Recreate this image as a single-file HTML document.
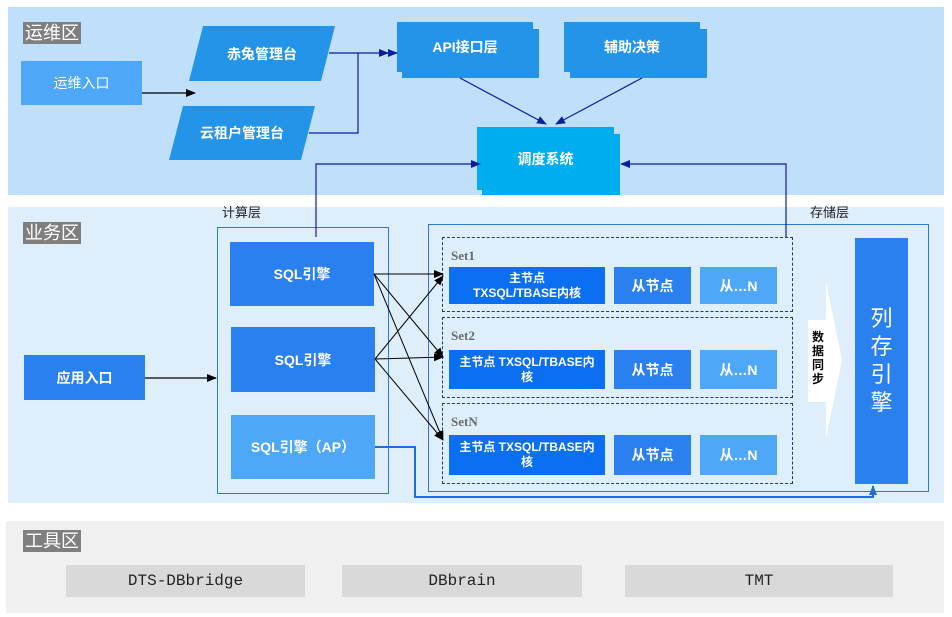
<!DOCTYPE html>
<html><head><meta charset="utf-8"><style>
*{margin:0;padding:0;box-sizing:border-box}
body{width:952px;height:617px;position:relative;background:#fff;font-family:"Liberation Sans","Noto Sans CJK SC",sans-serif;overflow:hidden}
.a{position:absolute}
.c{display:flex;align-items:center;justify-content:center;text-align:center;color:#fff;font-weight:bold;font-size:14px;line-height:16px}
.zl{position:absolute;background:#7f7f7f;color:#fff;font-size:18px;line-height:22px;padding:0 2px}
.dash{position:absolute;border:1.5px dashed #1f3a6e}
.st{position:absolute;color:#6b6b6b;font-weight:bold;font-size:13px;font-family:"Liberation Serif","Noto Serif CJK SC",serif}
.tool{position:absolute;background:#d9d9d9;display:flex;align-items:center;justify-content:center;font-family:"Liberation Mono",monospace;font-size:16px;color:#222}
</style></head><body>
<div class="a" style="left:8px;top:7px;width:936px;height:188px;background:#bfdffb"></div>
<div class="a" style="left:8px;top:207px;width:936px;height:296px;background:#deeefb"></div>
<div class="a" style="left:6px;top:521px;width:938px;height:92px;background:#f0f0f0"></div>
<div class="zl" style="left:23px;top:22px">运维区</div>
<div class="zl" style="left:23px;top:222px">业务区</div>
<div class="zl" style="left:23px;top:530px">工具区</div>

<div class="a c" style="left:21px;top:61px;width:121px;height:44px;background:#4fa7f7;font-weight:normal">运维入口</div>
<svg class="a" style="left:0;top:0" width="952" height="617">
<polygon points="203,26 335,26 321,81 189,81" fill="#2494e8"/>
<polygon points="183,106 315,106 301,160 169,160" fill="#2494e8"/>
</svg>
<div class="a c" style="left:195px;top:26px;width:134px;height:55px">赤兔管理台</div>
<div class="a c" style="left:175px;top:106px;width:134px;height:54px">云租户管理台</div>

<div class="a" style="left:402px;top:29px;width:137px;height:49px;background:#2494e8"></div>
<div class="a c" style="left:397px;top:22px;width:136px;height:50px;background:#2494e8">API接口层</div>
<div class="a" style="left:570px;top:29px;width:137px;height:49px;background:#2494e8"></div>
<div class="a c" style="left:564px;top:22px;width:136px;height:50px;background:#2494e8">辅助决策</div>
<div class="a" style="left:482px;top:134px;width:138px;height:61px;background:#00aeef"></div>
<div class="a c" style="left:477px;top:127px;width:137px;height:63px;background:#00aeef">调度系统</div>

<div class="a" style="left:222px;top:202px;font-size:13px;color:#222">计算层</div>
<div class="a" style="left:810px;top:202px;font-size:13px;color:#222">存储层</div>
<div class="a" style="left:217px;top:227px;width:172px;height:267px;border:1.5px solid #2b7ad6"></div>
<div class="a" style="left:428px;top:224px;width:501px;height:268px;border:1.5px solid #2b7ad6"></div>
<div class="a c" style="left:230px;top:242px;width:144px;height:64px;background:#2b80f0">SQL引擎</div>
<div class="a c" style="left:231px;top:327px;width:144px;height:65px;background:#2b80f0">SQL引擎</div>
<div class="a c" style="left:231px;top:415px;width:144px;height:64px;background:#4fa7f7">SQL引擎（AP）</div>
<div class="a c" style="left:24px;top:355px;width:121px;height:45px;background:#2b80f0">应用入口</div>

<div class="dash" style="left:442px;top:237px;width:351px;height:75px"></div>
<div class="dash" style="left:442px;top:317px;width:351px;height:81px"></div>
<div class="dash" style="left:442px;top:403px;width:351px;height:81px"></div>
<div class="st" style="left:451px;top:248px">Set1</div>
<div class="st" style="left:451px;top:328px">Set2</div>
<div class="st" style="left:451px;top:414px">SetN</div>
<div class="a c" style="left:449px;top:267px;width:156px;height:37px;background:#0a6ff0;font-size:12px;line-height:15px">主节点<br>TXSQL/TBASE内核</div>
<div class="a c" style="left:449px;top:350px;width:156px;height:39px;background:#0a6ff0;font-size:12px;line-height:15px">主节点 TXSQL/TBASE内<br>核</div>
<div class="a c" style="left:449px;top:435px;width:156px;height:40px;background:#0a6ff0;font-size:12px;line-height:15px">主节点 TXSQL/TBASE内<br>核</div>
<div class="a c" style="left:614px;top:267px;width:77px;height:37px;background:#2b80f0">从节点</div>
<div class="a c" style="left:614px;top:350px;width:77px;height:39px;background:#2b80f0">从节点</div>
<div class="a c" style="left:614px;top:435px;width:77px;height:40px;background:#2b80f0">从节点</div>
<div class="a c" style="left:700px;top:267px;width:77px;height:37px;background:#4fa7f7">从…N</div>
<div class="a c" style="left:700px;top:350px;width:77px;height:39px;background:#4fa7f7">从…N</div>
<div class="a c" style="left:700px;top:435px;width:77px;height:40px;background:#4fa7f7">从…N</div>
<svg class="a" style="left:0;top:0" width="952" height="617">
<polygon points="808,320 826,320 826,282 842,360 826,438 826,402 808,402" fill="#fff"/>
</svg>
<div class="a" style="left:810px;top:330px;width:16px;font-size:12px;line-height:14px;font-weight:bold;color:#000;text-align:center">数<br>据<br>同<br>步</div>
<div class="a c" style="left:855px;top:238px;width:53px;height:246px;background:#2b80f0;font-size:22px;line-height:28px;font-weight:normal">列<br>存<br>引<br>擎</div>

<div class="tool" style="left:66px;top:565px;width:239px;height:32px">DTS-DBbridge</div>
<div class="tool" style="left:342px;top:565px;width:240px;height:32px">DBbrain</div>
<div class="tool" style="left:625px;top:565px;width:268px;height:32px">TMT</div>

<svg class="a" style="left:0;top:0" width="952" height="617">
<defs>
<marker id="k" markerWidth="10" markerHeight="8" refX="9" refY="4" orient="auto" markerUnits="userSpaceOnUse"><path d="M0,0 L10,4 L0,8z" fill="#000"/></marker>
<marker id="b" markerWidth="10" markerHeight="8" refX="9" refY="4" orient="auto" markerUnits="userSpaceOnUse"><path d="M0,0 L10,4 L0,8z" fill="#0a1fa0"/></marker>
<marker id="u" markerWidth="10" markerHeight="8" refX="9" refY="4" orient="auto" markerUnits="userSpaceOnUse"><path d="M0,0 L10,4 L0,8z" fill="#1c6fe0"/></marker>
</defs>
<g fill="none" stroke-width="1.2">
<line x1="142" y1="93" x2="195" y2="93" stroke="#000" marker-end="url(#k)"/>
<polyline points="329,53 358,53 358,133 309,133" stroke="#0a1fa0"/>
<line x1="358" y1="53" x2="397" y2="53" stroke="#0a1fa0" marker-end="url(#b)"/>
<line x1="380" y1="53" x2="388" y2="53" stroke="#0a1fa0" marker-end="url(#b)"/>
<line x1="460" y1="78" x2="546" y2="124" stroke="#0a1fa0" marker-end="url(#b)"/>
<line x1="642" y1="78" x2="556" y2="124" stroke="#0a1fa0" marker-end="url(#b)"/>
<polyline points="316,237 316,164 480,164" stroke="#0a1fa0" marker-end="url(#b)"/>
<polyline points="786,237 786,164 621,164" stroke="#0a1fa0" marker-end="url(#b)"/>
<line x1="145" y1="378" x2="216" y2="378" stroke="#000" marker-end="url(#k)"/>
<g stroke="#000" stroke-width="1">
<line x1="374" y1="274" x2="443" y2="274" marker-end="url(#k)"/>
<line x1="374" y1="274" x2="443" y2="357" marker-end="url(#k)"/>
<line x1="374" y1="274" x2="443" y2="440" marker-end="url(#k)"/>
<line x1="375" y1="359" x2="443" y2="276" marker-end="url(#k)"/>
<line x1="375" y1="359" x2="443" y2="357" marker-end="url(#k)"/>
<line x1="375" y1="359" x2="443" y2="440" marker-end="url(#k)"/>
</g>
<polyline points="375,447 415,447 415,497 873,497 873,486" stroke="#1c6fe0" stroke-width="2" marker-end="url(#u)"/>
</g>
</svg>
</body></html>
